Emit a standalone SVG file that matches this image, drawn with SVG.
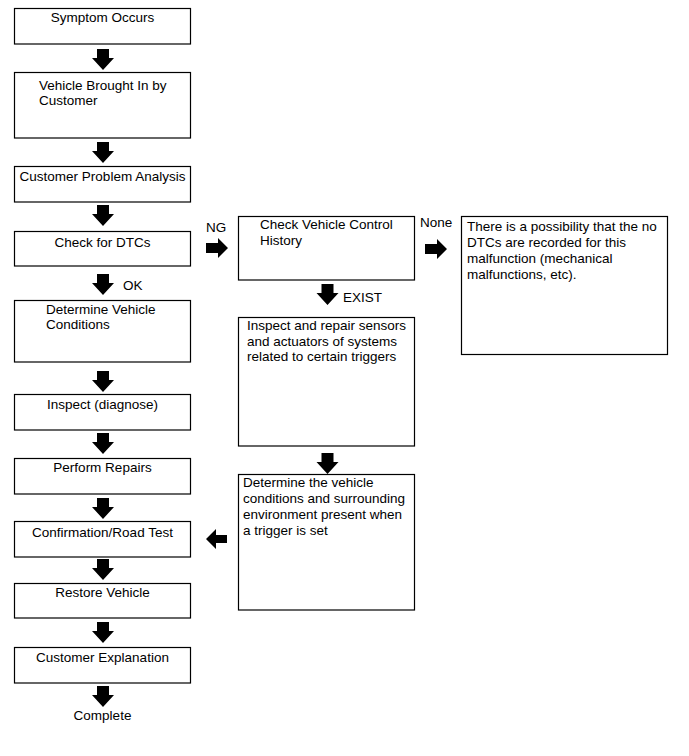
<svg xmlns="http://www.w3.org/2000/svg" xmlns:xlink="http://www.w3.org/1999/xlink" width="689" height="756" viewBox="0 0 689 756">
<style>
.box{fill:#fff;stroke:#000;stroke-width:1.2}
text{font-family:"Liberation Sans",Arial,sans-serif;font-size:13.5px;fill:#000}
.c{text-anchor:middle}
.arr{fill:#000}
</style>
<defs>
<path id="down" d="M-6,0 H6 V9 H11 L0,21 L-11,9 H-6 Z"/>
<path id="right" d="M0,-5 H12 V-10 L22,0 L12,10 V5 H0 Z"/>
<path id="left" d="M0,-4 H-11 V-10 L-21,0 L-11,10 V4 H0 Z"/>
</defs>
<rect width="689" height="756" fill="#fff"/>
<g id="n1"><rect class="box" x="14.5" y="8.5" width="176" height="35.5"/><text class="c" x="102.5" y="22">Symptom Occurs</text></g>
<g id="n2"><rect class="box" x="14.5" y="72.5" width="176" height="65.5"/><text x="39" y="89.5">Vehicle Brought In by</text><text x="39" y="104.5">Customer</text></g>
<g id="n3"><rect class="box" x="14.5" y="166.5" width="176" height="35.5"/><text class="c" x="102.5" y="181">Customer Problem Analysis</text></g>
<g id="n4"><rect class="box" x="14.5" y="231.5" width="176" height="34.5"/><text class="c" x="102.5" y="247">Check for DTCs</text></g>
<g id="n5"><rect class="box" x="14.5" y="300.5" width="176" height="61.5"/><text x="46" y="314">Determine Vehicle</text><text x="46" y="329">Conditions</text></g>
<g id="n6"><rect class="box" x="14.5" y="394.5" width="176" height="35.5"/><text class="c" x="102.5" y="409">Inspect (diagnose)</text></g>
<g id="n7"><rect class="box" x="14.5" y="458.5" width="176" height="35.5"/><text class="c" x="102.5" y="472">Perform Repairs</text></g>
<g id="n8"><rect class="box" x="14.5" y="521.5" width="176" height="35.5"/><text class="c" x="102.5" y="537">Confirmation/Road Test</text></g>
<g id="n9"><rect class="box" x="14.5" y="583.5" width="176" height="34.5"/><text class="c" x="102.5" y="597">Restore Vehicle</text></g>
<g id="n10"><rect class="box" x="14.5" y="647.5" width="176" height="35.5"/><text class="c" x="102.5" y="662">Customer Explanation</text></g>
<g id="n11"><text class="c" x="102.5" y="720">Complete</text></g>
<g id="m1"><rect class="box" x="238.5" y="216.5" width="176" height="63.5"/><text x="260" y="229">Check Vehicle Control</text><text x="260" y="244.5">History</text></g>
<g id="m2"><rect class="box" x="238.5" y="317.5" width="176" height="128.5"/><text x="247" y="330">Inspect and repair sensors</text><text x="247" y="345.5">and actuators of systems</text><text x="247" y="361">related to certain triggers</text></g>
<g id="m3"><rect class="box" x="238.5" y="474.5" width="176" height="135.5"/><text x="243" y="486.5">Determine the vehicle</text><text x="243" y="502.5">conditions and surrounding</text><text x="243" y="518.5">environment present when</text><text x="243" y="534.5">a trigger is set</text></g>
<g id="r1"><rect class="box" x="461.5" y="216.5" width="206" height="138"/><text x="467" y="230.5">There is a possibility that the no</text><text x="467" y="246.5">DTCs are recorded for this</text><text x="467" y="262.5">malfunction (mechanical</text><text x="467" y="278.5">malfunctions, etc).</text></g>
<g id="connectors" class="arr">
<use xlink:href="#down" x="103" y="49"/>
<use xlink:href="#down" x="103" y="142"/>
<use xlink:href="#down" x="103" y="205"/>
<use xlink:href="#down" x="103" y="274"/>
<use xlink:href="#down" x="103" y="371"/>
<use xlink:href="#down" x="103" y="433"/>
<use xlink:href="#down" x="103" y="498"/>
<use xlink:href="#down" x="103" y="559"/>
<use xlink:href="#down" x="103" y="622"/>
<use xlink:href="#down" x="103" y="686"/>
<use xlink:href="#down" x="327.5" y="284"/>
<use xlink:href="#down" x="327.5" y="453"/>
<use xlink:href="#right" x="206" y="248"/>
<use xlink:href="#right" x="425" y="249"/>
<use xlink:href="#left" x="227" y="539"/>
<text x="123" y="290">OK</text>
<text x="206" y="232">NG</text>
<text x="343" y="302">EXIST</text>
<text x="420" y="227">None</text>
</g>
</svg>
